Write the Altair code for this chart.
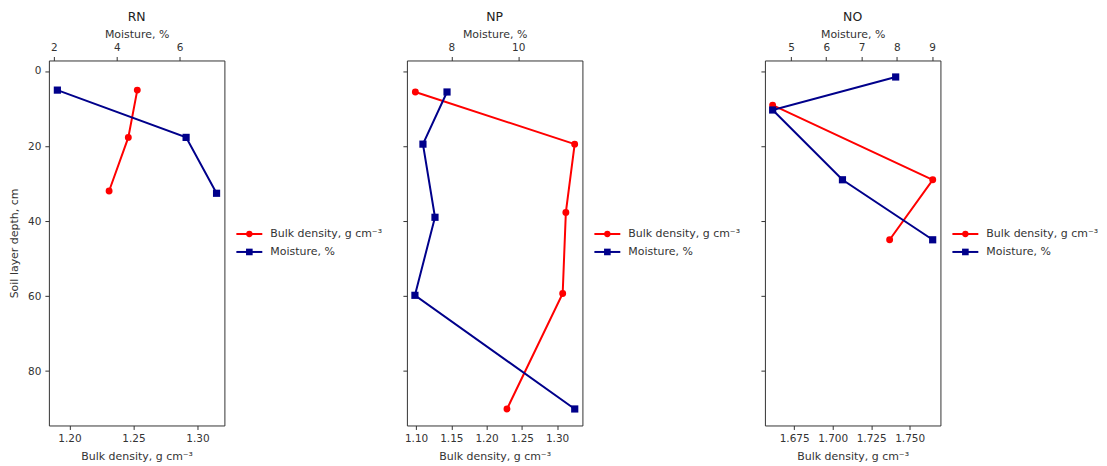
import altair as alt
import pandas as pd

# ---------------- data ----------------
panel_names = ["RN", "NP", "NO"]

rn_bd_depth = [5.1, 17.7, 32.0]
rn_bd = [1.253, 1.246, 1.231]
rn_m_depth = [5.1, 17.7, 32.6]
rn_m = [2.11, 6.21, 7.18]

np_bd_depth = [5.6, 19.5, 37.7, 59.3, 90.1]
np_bd = [1.099, 1.325, 1.3125, 1.308, 1.229]
np_m_depth = [5.6, 19.5, 39.0, 59.8, 90.1]
np_m = [7.87, 7.15, 7.51, 6.91, 11.69]

no_bd_depth = [9.1, 29.0, 45.0]
no_bd = [1.661, 1.765, 1.737]
no_m_depth = [1.6, 10.4, 29.0, 45.0]
no_m = [7.97, 4.48, 6.46, 9.02]

# axis limits and tick labels
depth_limits = [-2.8, 94.5]
depth_ticks = [0, 20, 40, 60, 80]

rn_bd_limits = [1.184, 1.321]
rn_m_limits = [1.84, 7.43]
np_bd_limits = [1.087, 1.336]
np_m_limits = [6.67, 11.92]
no_bd_limits = [1.656, 1.770]
no_m_limits = [4.26, 9.24]

rn_bd_ticks = [1.20, 1.25, 1.30]
rn_m_ticks = [2, 4, 6]
np_bd_ticks = [1.10, 1.15, 1.20, 1.25, 1.30]
np_m_ticks = [8, 10]
no_bd_ticks = [1.675, 1.700, 1.725, 1.750]
no_m_ticks = [5, 6, 7, 8, 9]

BD_LABEL = "Bulk density, g cm\u207b\u00b3"
M_LABEL = "Moisture, %"
Y_LABEL = "Soil layer depth, cm"

RED = "#ff0000"
BLUE = "#00008b"
INK = "#333333"
FONT = "DejaVu Sans"

W = 176
H = 366


def make_panel(name, bd, bd_depth, m, m_depth, bd_lim, m_lim, bd_ticks, m_ticks,
               bd_fmt, first):
    df_bd = pd.DataFrame({"depth": bd_depth, "val": bd, "i": list(range(len(bd)))})
    df_m = pd.DataFrame({"depth": m_depth, "val": m, "i": list(range(len(m)))})

    if first:
        yaxis = alt.Axis(values=depth_ticks, title=Y_LABEL, titlePadding=8,
                         grid=False)
    else:
        yaxis = alt.Axis(values=depth_ticks, title=None, labels=False, grid=False)

    yenc = alt.Y("depth:Q",
                 scale=alt.Scale(domain=depth_limits, reverse=True, nice=False,
                                 zero=False),
                 axis=yaxis)

    bd_line = alt.Chart(df_bd).mark_line(
        color=RED, strokeWidth=2,
        point=alt.OverlayMarkDef(shape="circle", filled=True, size=48,
                                 color=RED, opacity=1),
    ).encode(
        x=alt.X("val:Q",
                scale=alt.Scale(domain=bd_lim, nice=False, zero=False),
                axis=alt.Axis(orient="bottom", values=bd_ticks, format=bd_fmt,
                              title=BD_LABEL, grid=False, labelPadding=4,
                              titlePadding=7)),
        y=yenc,
        order="i:Q",
    )

    m_line = alt.Chart(df_m).mark_line(
        color=BLUE, strokeWidth=2,
        point=alt.OverlayMarkDef(shape="square", filled=True, size=52,
                                 color=BLUE, opacity=1),
    ).encode(
        x=alt.X("val:Q",
                scale=alt.Scale(domain=m_lim, nice=False, zero=False),
                axis=alt.Axis(orient="top", values=m_ticks, format="d",
                              title=M_LABEL, grid=False, labelPadding=4,
                              titlePadding=3)),
        y=yenc,
        order="i:Q",
    )

    layers = [bd_line, m_line]
    legend_items = [(BD_LABEL, RED, "circle", 40, H / 2 - 9),
                    (M_LABEL, BLUE, "square", 44, H / 2 + 9)]
    for label, col, shp, sz, yy in legend_items:
        ldf = pd.DataFrame({"label": [label]})
        base = alt.Chart(ldf)
        layers.append(base.mark_rule(color=col, strokeWidth=2).encode(
            x=alt.value(W + 12), x2=alt.value(W + 38), y=alt.value(yy)))
        layers.append(base.mark_point(shape=shp, filled=True, size=sz, color=col,
                                      opacity=1).encode(
            x=alt.value(W + 25), y=alt.value(yy)))
        layers.append(base.mark_text(align="left", baseline="middle", fontSize=11,
                                     color=INK, font=FONT).encode(
            x=alt.value(W + 46), y=alt.value(yy), text="label:N"))

    return alt.layer(*layers).resolve_scale(x="independent").properties(
        width=W, height=H,
        title=alt.TitleParams(name, fontSize=12.5, fontWeight="normal",
                              font=FONT, color="#222222", anchor="middle",
                              offset=5),
    )


p1 = make_panel(panel_names[0], rn_bd, rn_bd_depth, rn_m, rn_m_depth,
                rn_bd_limits, rn_m_limits, rn_bd_ticks, rn_m_ticks, ".2f", True)
p2 = make_panel(panel_names[1], np_bd, np_bd_depth, np_m, np_m_depth,
                np_bd_limits, np_m_limits, np_bd_ticks, np_m_ticks, ".2f", False)
p3 = make_panel(panel_names[2], no_bd, no_bd_depth, no_m, no_m_depth,
                no_bd_limits, no_m_limits, no_bd_ticks, no_m_ticks, ".3f", False)

chart = alt.hconcat(
    p1, p2, p3, spacing=183, bounds="flush",
    padding={"top": 2, "left": 0, "right": 0, "bottom": 0},
).configure_view(
    stroke=INK, strokeWidth=1
).configure_axis(
    domain=False,
    tickColor=INK, tickSize=4, tickWidth=1,
    labelColor=INK, labelFont=FONT, labelFontSize=10.5, labelPadding=4,
    titleColor=INK, titleFont=FONT, titleFontSize=11, titleFontWeight="normal",
    titlePadding=4,
)

chart.save("out.html", embed_options={"renderer": "svg", "actions": False})
